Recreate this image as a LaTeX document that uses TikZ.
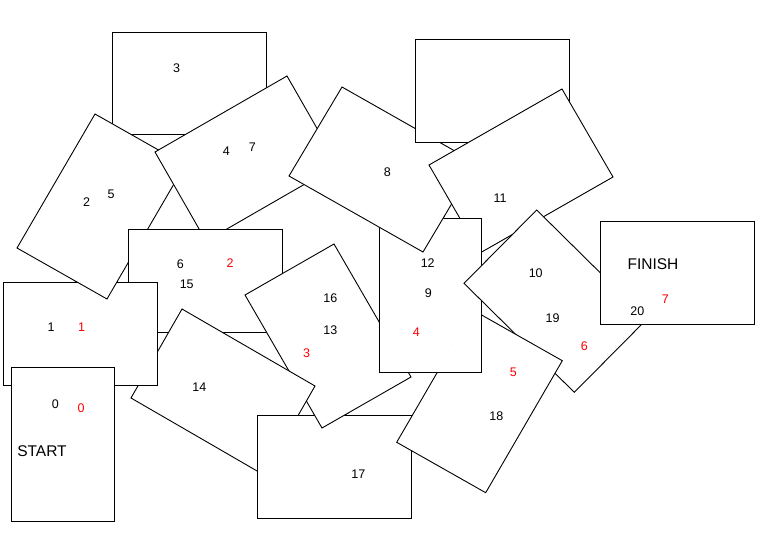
\documentclass[tikz,border=0pt]{standalone}
\usepackage{fontspec}
\setmainfont{Liberation Sans}
\usetikzlibrary{calc}
\newcommand\mkcard[5]{%
  \coordinate (#1-1) at (#2);\coordinate (#1-2) at (#3);%
  \coordinate (#1-3) at (#4);\coordinate (#1-4) at (#5);%
  \coordinate (#1-c) at ($(#1-1)!0.5!(#1-3)$);}
\newcommand\drawcard[1]{\path[card] (#1-1) -- (#1-2) -- (#1-3) -- (#1-4) -- cycle;}
\newcommand\clipcard[1]{\clip ($(#1-c)!1.02!(#1-1)$) -- ($(#1-c)!1.02!(#1-2)$) -- ($(#1-c)!1.02!(#1-3)$) -- ($(#1-c)!1.02!(#1-4)$) -- cycle;}
\begin{document}
\begin{tikzpicture}[x=1pt,y=-1pt,
  card/.style={fill=white,draw=black,line width=0.9pt,line join=miter},
  lbl/.style={inner sep=0pt,font=\fontsize{12.5}{14}\selectfont},
  redlbl/.style={lbl,text=red},
  word/.style={inner sep=0pt,font=\fontsize{15.5}{18}\selectfont}]
\useasboundingbox (0,0) rectangle (760,554);
\fill[white] (0,0) rectangle (760,554);
% card geometry
\mkcard{A}{112.3,32.3}{266.7,32.3}{266.7,134.3}{112.3,134.3}
\mkcard{B}{95,114}{17,248}{107,299}{185,165}
\mkcard{C}{155,152}{287,76}{338,165}{206,241}
\mkcard{D}{415,39.3}{569.3,39.3}{569.3,142.3}{415,142.3}
\mkcard{E}{342,87}{289,176}{423,252}{476,163}
\mkcard{F}{562,89}{429,165}{480,253}{613,177}
\mkcard{G}{379.3,218.3}{481.7,218.3}{481.7,372.3}{379.3,372.3}
\mkcard{H}{128.3,229.3}{282.7,229.3}{282.7,332.3}{128.3,332.3}
\mkcard{I}{3.3,282.3}{157.3,282.3}{157.3,385.7}{3.3,385.7}
\mkcard{J}{11.3,367.3}{114.7,367.3}{114.7,521.3}{11.3,521.3}
\mkcard{K}{182,309}{131,398}{264,475}{315,386}
\mkcard{L}{257.3,415}{411.7,415}{411.7,518.3}{257.3,518.3}
\mkcard{M}{334,244}{245,295}{322,428}{411,377}
\mkcard{N}{536.7,210}{464,283.3}{574.3,392.3}{647,319}
\mkcard{O}{600.3,221.7}{754.3,221.7}{754.3,324.3}{600.3,324.3}
\mkcard{P}{473.3,310.3}{396.7,442.3}{485.7,492.7}{562.3,360.7}
% stacking, bottom to top
\drawcard{A}
\drawcard{B}
\drawcard{C}
\drawcard{H}
\drawcard{M}
\drawcard{K}
\drawcard{L}
\drawcard{I}
\drawcard{J}
\drawcard{E}
\drawcard{D}
\drawcard{F}
\drawcard{G}
\drawcard{N}
\drawcard{P}
\drawcard{O}
% overlaps that lie the other way round
\begin{scope}\clipcard{I}\drawcard{B}\end{scope}
\begin{scope}\clipcard{L}\drawcard{M}\end{scope}
\begin{scope}\clipcard{G}\drawcard{E}\end{scope}
\begin{scope}\clipcard{P}\drawcard{G}\end{scope}
% labels
\node[lbl] (t3) at (176.7,67.7) {3};
\node[lbl] (t4) at (226.3,151) {4};
\node[lbl] (t7) at (252.3,146.7) {7};
\node[lbl] (t2) at (86.7,202.3) {2};
\node[lbl] (t5) at (111,194) {5};
\node[lbl] (t6) at (180.3,263.7) {6};
\node[redlbl] (r2) at (230,262.7) {2};
\node[lbl] (t15) at (186.7,284.3) {15};
\node[lbl] (t8) at (387.3,171.7) {8};
\node[lbl] (t11) at (500,197.7) {11};
\node[lbl] (t12) at (427.7,263.3) {12};
\node[lbl] (t9) at (428.3,293.3) {9};
\node[redlbl] (r4) at (416.3,331.7) {4};
\node[lbl] (t10) at (535.7,273.5) {10};
\node[lbl] (t19) at (552.5,318.2) {19};
\node[redlbl] (r6) at (584.3,346) {6};
\node[lbl] (t1) at (51,326.7) {1};
\node[redlbl] (r1) at (81.7,327.3) {1};
\node[lbl] (t0) at (55.3,404.3) {0};
\node[redlbl] (r0) at (81,408.3) {0};
\node[word] (start) at (42,451.5) {START};
\node[lbl] (t14) at (199.3,387.3) {14};
\node[lbl] (t16) at (330.3,297.7) {16};
\node[lbl] (t13) at (330.3,330) {13};
\node[redlbl] (r3) at (306.5,352.7) {3};
\node[redlbl] (r5) at (513.3,372.7) {5};
\node[lbl] (t18) at (496.3,415.7) {18};
\node[lbl] (t17) at (358.3,474.3) {17};
\node[word] (finish) at (653,263.8) {FINISH};
\node[redlbl] (r7) at (665.3,298.7) {7};
\node[lbl] (t20) at (637.3,311) {20};
\end{tikzpicture}
\end{document}
